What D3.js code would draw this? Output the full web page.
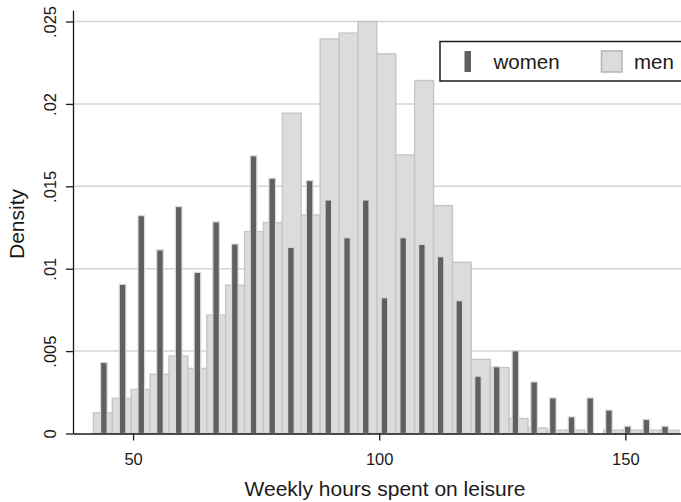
<!DOCTYPE html>
<html>
<head>
<meta charset="utf-8">
<script src="https://cdn.jsdelivr.net/npm/d3@7"></script>
<style>
  html, body { margin: 0; padding: 0; background: #fff; }
  svg { display: block; font-family: "Liberation Sans", Arial, Helvetica, sans-serif; }
</style>
</head>
<body>
<svg id="chart" width="681" height="502"></svg>
<script>
// Histogram bins: men (wide bars) and women (narrow overlaid bars)
const menBinStart = 41.94;
const menBinWidth = 3.839;
const menDensity = [0.00125, 0.00213, 0.00267, 0.0036, 0.0047, 0.00395, 0.00719, 0.0090,
  0.01225, 0.0128, 0.01944, 0.01326, 0.02394, 0.0243, 0.0250, 0.02304, 0.01691, 0.02142,
  0.01383, 0.01039, 0.0045, 0.0040, 0.00091, 0.00034, 0.0002, 0.0002, 0, 0.0002, 0.0002,
  0.0002, 0.0002];

const womenBinStart = 42.17;
const womenBinWidth = 3.80;
const womenBarFraction = 0.35;
const womenDensity = [0.00431, 0.00905, 0.01322, 0.01114, 0.01377, 0.00978, 0.01284, 0.0115,
  0.01685, 0.01549, 0.0113, 0.01535, 0.01417, 0.01188, 0.01417, 0.00824, 0.01188, 0.01148,
  0.01073, 0.00806, 0.00348, 0.00405, 0.00502, 0.00313, 0.00216, 0.00101, 0.00216, 0.00142,
  0.00044, 0.00085, 0.00044];

const xTicks = [50, 100, 150];
const yTicks = [0, 0.005, 0.01, 0.015, 0.02, 0.025];
const yTickLabels = ["0", ".005", ".01", ".015", ".02", ".025"];
const legendLabels = ["women", "men"];

const W = 681, H = 502;
const svg = d3.select("#chart");

const x = d3.scaleLinear().domain([37.8, 175]).range([73, 748.4]);
const y = d3.scaleLinear().domain([0, 0.0257]).range([433.5, 10]);

const menFill = "#dcdcdc", menStroke = "#c6c6c6";
const womenFill = "#606060", womenStroke = "#d8d8d8";

// grid lines
svg.append("g")
  .selectAll("line")
  .data(yTicks.filter(d => d > 0))
  .join("line")
  .attr("x1", x.range()[0]).attr("x2", W)
  .attr("y1", d => y(d)).attr("y2", d => y(d))
  .attr("stroke", "#d4d4d4").attr("stroke-width", 1.5);

// men bars
const menBins = menDensity.map((v, i) => ({
  x0: menBinStart + i * menBinWidth,
  x1: menBinStart + (i + 1) * menBinWidth,
  v
})).filter(d => d.v > 0);

svg.append("g")
  .selectAll("rect")
  .data(menBins)
  .join("rect")
  .attr("x", d => x(d.x0))
  .attr("width", d => x(d.x1) - x(d.x0))
  .attr("y", d => y(d.v))
  .attr("height", d => y(0) - y(d.v))
  .attr("fill", menFill)
  .attr("stroke", menStroke)
  .attr("stroke-width", 1.4);

// women bars
const womenBins = womenDensity.map((v, i) => {
  const c = womenBinStart + (i + 0.5) * womenBinWidth;
  const hw = womenBinWidth * womenBarFraction / 2;
  return { x0: c - hw, x1: c + hw, v };
});

svg.append("g")
  .selectAll("rect")
  .data(womenBins)
  .join("rect")
  .attr("x", d => x(d.x0))
  .attr("width", d => x(d.x1) - x(d.x0))
  .attr("y", d => y(d.v))
  .attr("height", d => y(0) - y(d.v))
  .attr("fill", womenFill)
  .attr("stroke", womenStroke)
  .attr("stroke-width", 1.2);

// x axis
const xAxis = svg.append("g")
  .attr("transform", `translate(0,${y(0)})`)
  .call(d3.axisBottom(x).tickValues(xTicks).tickFormat(d3.format("d")).tickSize(7).tickSizeOuter(0));
xAxis.select(".domain").attr("stroke", "#1a1a1a").attr("stroke-width", 1.3);
xAxis.selectAll(".tick line").attr("stroke", "#1a1a1a").attr("stroke-width", 1.3);
xAxis.selectAll(".tick text")
  .attr("y", 0).attr("dy", 31.5)
  .attr("font-size", 16.5).attr("fill", "#1a1a1a")
  .attr("font-family", "Liberation Sans, Arial, sans-serif");

// y axis
const yAxis = svg.append("g")
  .attr("transform", `translate(${x.range()[0]},0)`)
  .call(d3.axisLeft(y).tickValues(yTicks).tickFormat((d, i) => yTickLabels[i]).tickSize(7).tickSizeOuter(0));
yAxis.select(".domain").attr("stroke", "#1a1a1a").attr("stroke-width", 1.3);
yAxis.selectAll(".tick line").attr("stroke", "#1a1a1a").attr("stroke-width", 1.3);
yAxis.selectAll(".tick text")
  .attr("x", null).attr("dy", null)
  .attr("text-anchor", "middle")
  .attr("transform", "translate(-17.5,0) rotate(-90)")
  .attr("font-size", 16.5).attr("fill", "#1a1a1a")
  .attr("font-family", "Liberation Sans, Arial, sans-serif");

// axis titles
svg.append("text")
  .attr("x", 385).attr("y", 496)
  .attr("text-anchor", "middle")
  .attr("font-size", 21).attr("fill", "#1a1a1a")
  .text("Weekly hours spent on leisure");

svg.append("text")
  .attr("transform", "translate(23.5,224) rotate(-90)")
  .attr("text-anchor", "middle")
  .attr("font-size", 21).attr("fill", "#1a1a1a")
  .text("Density");

// legend
const lg = svg.append("g");
lg.append("rect")
  .attr("x", 440).attr("y", 41.5).attr("width", 300).attr("height", 39.5)
  .attr("fill", "#fff").attr("stroke", "#1a1a1a").attr("stroke-width", 1.5);
lg.append("rect")
  .attr("x", 464.5).attr("y", 51).attr("width", 6.5).attr("height", 21)
  .attr("fill", womenFill);
lg.append("rect")
  .attr("x", 601.5).attr("y", 51).attr("width", 20.5).attr("height", 21)
  .attr("fill", menFill).attr("stroke", "#b4b4b4").attr("stroke-width", 1.5);
lg.append("text")
  .attr("x", 493.5).attr("y", 68.5)
  .attr("font-size", 20.5).attr("fill", "#1a1a1a")
  .text(legendLabels[0]);
lg.append("text")
  .attr("x", 634).attr("y", 68.5)
  .attr("font-size", 20.5).attr("fill", "#1a1a1a")
  .text(legendLabels[1]);
</script>
</body>
</html>
